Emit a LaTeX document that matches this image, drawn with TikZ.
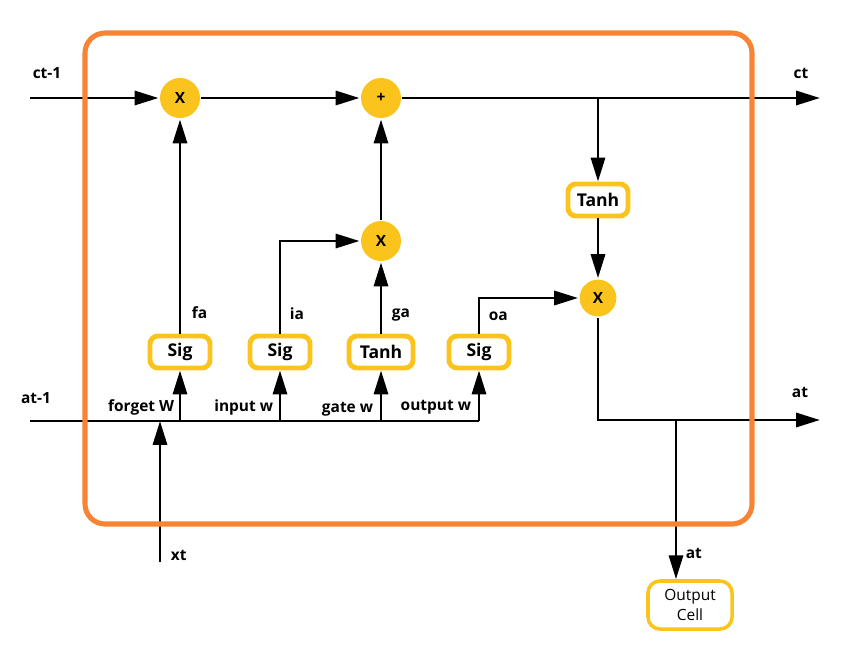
\documentclass[tikz,border=0pt]{standalone}
\usepackage{fontspec}
\setmainfont{Open Sans}
\usetikzlibrary{arrows.meta,positioning}
\definecolor{gateyellow}{RGB}{250,196,28}
\definecolor{cellorange}{RGB}{246,132,52}
\begin{document}
\begin{tikzpicture}[x=0.025cm, y=-0.025cm,
	line width=2.1pt,
	arr/.style={-{Triangle[length=17pt,width=10pt]}},
	gate/.style={circle, fill=gateyellow, minimum size=1cm, inner sep=0pt, font=\fontsize{11}{13}\selectfont\bfseries},
	box/.style={draw=gateyellow, line width=3.5pt, rounded corners=0.2cm, fill=white, minimum width=1.5cm, minimum height=0.8cm, inner sep=2pt, font=\fontsize{12.5}{14}\selectfont\bfseries},
	lbl/.style={font=\fontsize{11}{13}\selectfont\bfseries, inner sep=1pt}]
	\useasboundingbox (0,0) rectangle (842,645);
	
	\node[gate] (fmul) at (180,98) {X};
	\node[gate] (add) at (381,98) {+};
	\node[gate] (imul) at (381,241) {X};
	\node[gate, minimum size=0.92cm] (omul) at (598,298) {X};
	
	\node[box] (fsig) at (180,352) {Sig};
	\node[box] (isig) at (280,352) {Sig};
	\node[box, minimum width=1.6cm] (gtanh) at (381,352) {Tanh};
	\node[box] (osig) at (479,352) {Sig};
	\node[box] (ctanh) at (598,200) {Tanh};
	\node[draw=gateyellow, line width=2.5pt, rounded corners=0.3cm, minimum width=2.1cm, minimum height=1.2cm, align=center, font=\fontsize{11}{14}\selectfont] (out) at (690,605) {Output\\Cell};
	
	\coordinate (ctin) at (30,98);
	\coordinate (ctout) at (820,98);
	\coordinate (cbr) at (598,98);
	\coordinate (atin) at (30,421);
	\coordinate (atend) at (479,421);
	\coordinate (atout) at (820,420);
	\coordinate (abr) at (676,420);
	\coordinate (xtin) at (160,562);
	\coordinate (xtj) at (160,421);
	
	\draw[arr] (ctin) -- (fmul);
	\draw[arr] (fmul) -- (add);
	\draw[arr] (add) -- (ctout);
	\draw[arr] (cbr) -- (ctanh);
	\draw[arr] (ctanh) -- (omul);
	\draw[arr] (omul) |- (atout);
	\draw[arr] (abr) -- (abr |- out.north);
	
	\draw[arr] (fsig) -- (fmul);
	\draw[arr] (isig) |- (imul);
	\draw[arr] (gtanh) -- (imul);
	\draw[arr] (imul) -- (add);
	\draw[arr] (osig) |- (omul);
	
	\draw (atin) -- (atend);
	\draw[arr] (atend) -- (osig);
	\foreach \b in {fsig, isig, gtanh}
		\draw[arr] (\b |- atin) -- (\b);
	\draw[arr] (xtin) -- (xtj);
	
	\node[lbl] (lctin) at (47,73) {ct-1};
	\node[lbl] (lctout) at (801,73) {ct};
	\node[lbl] (latin) at (36,398) {at-1};
	\node[lbl] (latout) at (800,392) {at};
	\node[lbl, anchor=west] (lout) at (683,553) {at};
	\node[lbl, anchor=west] (lxt) at (168,555) {xt};
	\node[lbl, anchor=west] (lfa) at (189,313) {fa};
	\node[lbl, anchor=west] (lia) at (287,314) {ia};
	\node[lbl, anchor=west] (lga) at (389,315) {ga};
	\node[lbl, anchor=west] (loa) at (486,316) {oa};
	\node[lbl, anchor=east] (lfw) at (177,407) {forget W};
	\node[lbl, anchor=east] (liw) at (276,407) {input w};
	\node[lbl, anchor=east] (lgw) at (376,409) {gate w};
	\node[lbl, anchor=east] (low) at (474,407) {output w};
	
	\draw[cellorange, line width=3.6pt, rounded corners=0.5cm] (85,33) rectangle (752,524);
\end{tikzpicture}
\end{document}
